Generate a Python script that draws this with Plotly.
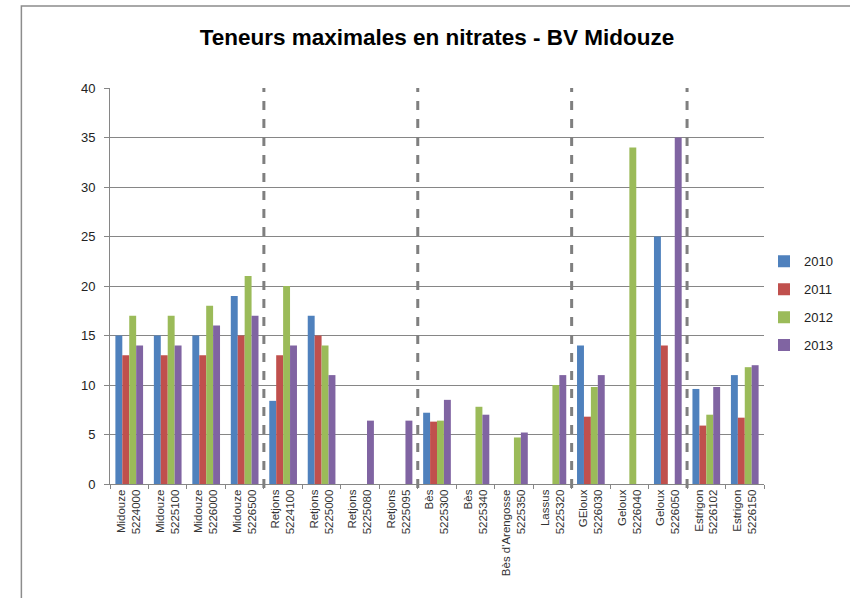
import plotly.graph_objects as go

# Stations (labels sur deux lignes)
stations = [
    "Midouze<br>5224000", "Midouze<br>5225100", "Midouze<br>5226000", "Midouze<br>5226500",
    "Retjons<br>5224100", "Retjons<br>5225000", "Retjons<br>5225080", "Retjons<br>5225095",
    "Bès<br>5225300", "Bès<br>5225340", "Bès d'Arengosse<br>5225350", "Lassus<br>5225320",
    "GEloux<br>5226030", "Geloux<br>5226040", "Geloux<br>5226050",
    "Estrigon<br>5226102", "Estrigon<br>5226150",
]

# Valeurs max de nitrates par année (None = pas de mesure)
v2010 = [15, 15, 15, 19, 8.4, 17, None, None, 7.2, None, None, None, 14, None, 25, 9.6, 11]
v2011 = [13, 13, 13, 15, 13, 15, None, None, 6.3, None, None, None, 6.8, None, 14, 5.9, 6.7]
v2012 = [17, 17, 18, 21, 20, 14, None, None, 6.4, 7.8, 4.7, 10, 9.8, 34, None, 7.0, 11.8]
v2013 = [14, 14, 16, 17, 14, 11, 6.4, 6.4, 8.5, 7.0, 5.2, 11, 11, None, 35, 9.8, 12]

annees = ["2010", "2011", "2012", "2013"]
couleurs = ["#4F81BD", "#C0504D", "#9BBB59", "#8064A2"]

# séparations entre bassins (index de catégorie)
separations = [3.5, 7.5, 11.5, 14.5]

fig = go.Figure()
for nom, vals, coul in zip(annees, [v2010, v2011, v2012, v2013], couleurs):
    fig.add_trace(go.Bar(
        x=stations, y=vals, name=nom,
        marker=dict(color=coul, line=dict(width=0)),
        legendgroup=nom,
    ))

# lignes pointillées verticales
for s in separations:
    fig.add_shape(type="line", xref="x", yref="paper",
                  x0=s, x1=s, y0=-0.01, y1=1,
                  line=dict(color="#7F7F7F", width=3, dash="dash"))

# cadre du graphique
fig.add_shape(type="rect", xref="paper", yref="paper",
              x0=-0.1355, x1=1.2, y0=-0.35, y1=1.207,
              line=dict(color="#8C8C8C", width=1.5), layer="below")

fig.update_layout(
    width=850, height=598,
    margin=dict(l=110, r=83, t=88, b=114),
    paper_bgcolor="white", plot_bgcolor="white",
    font=dict(family="Liberation Sans, Arial, sans-serif", color="#222"),
    title=dict(text="<b>Teneurs maximales en nitrates - BV Midouze</b>",
               x=0.5, xref="paper", xanchor="center",
               y=1 - 37 / 598, yanchor="middle",
               font=dict(size=22.5, color="black")),
    barmode="group", bargap=0.28, bargroupgap=0,
    legend=dict(x=1.0, y=0.60, xanchor="left", yanchor="top",
                font=dict(size=13, color="#222"), tracegroupgap=8,
                itemwidth=30),
    xaxis=dict(
        tickangle=-90, tickfont=dict(size=11.5, color="#333"),
        showline=True, linecolor="#868686", linewidth=1,
        ticks="outside", ticklen=4, tickcolor="#868686",
        tickson="boundaries", showgrid=False,
    ),
    yaxis=dict(
        range=[0, 40], dtick=5, tickfont=dict(size=13, color="#222"),
        showline=True, linecolor="#868686", linewidth=1,
        ticks="outside", ticklen=5, tickcolor="#868686",
        ticklabelstandoff=6,
        showgrid=True, gridcolor="#868686", gridwidth=1,
        zeroline=False,
    ),
)

fig.write_html("out.html", config={"displayModeBar": False},
               post_script="document.body.style.margin='0';")
